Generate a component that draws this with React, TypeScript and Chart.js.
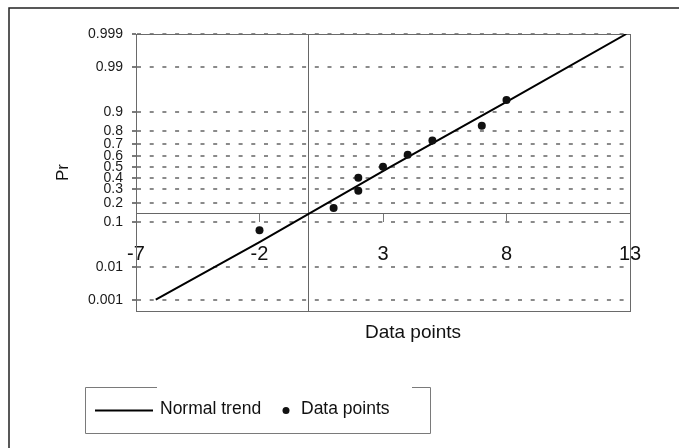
import React, { useEffect, useRef } from 'react';
import { Chart, registerables } from 'chart.js';

Chart.register(...registerables);

// ---- data ----
const trendLabel = 'Normal trend';
const pointsLabel = 'Data points';
const trendX = [-6.2, -2, 3.3, 8, 12.85];
const trendP = [0.001, 0.04, 0.5, 0.935, 0.999];
const pointX = [-2, 1, 2, 2, 3, 4, 5, 7, 8];
const pointP = [0.07, 0.17, 0.29, 0.4, 0.5, 0.61, 0.73, 0.83, 0.94];
const yTickP = [0.001, 0.01, 0.1, 0.2, 0.3, 0.4, 0.5, 0.6, 0.7, 0.8, 0.9, 0.99, 0.999];
const xTicks = [-7, -2, 3, 8, 13];
const xMin = -7;
const xMax = 13;
const yAxisMinP = 0.0004;
const yAxisMaxP = 0.999;
const xAxisCrossP = 0.138;
const xTitle = 'Data points';
const yTitle = 'Pr';

// inverse standard normal CDF (probability scale transform)
function probit(p: number): number {
  const a = [-39.69683028665376, 220.9460984245205, -275.9285104469687, 138.357751867269, -30.66479806614716, 2.506628277459239];
  const b = [-54.47609879822406, 161.5858368580409, -155.6989798598866, 66.80131188771972, -13.28068155288572];
  const c = [-0.007784894002430293, -0.3223964580411365, -2.400758277161838, -2.549671010229583, 4.374664141464968, 2.938163982698783];
  const d = [0.007784695709041462, 0.3224671290700398, 2.445134137142996, 3.754408661907416];
  const pl = 0.02425;
  const ph = 1 - pl;
  let q: number, r: number;
  if (p < pl) {
    q = Math.sqrt(-2 * Math.log(p));
    return (((((c[0] * q + c[1]) * q + c[2]) * q + c[3]) * q + c[4]) * q + c[5]) /
      ((((d[0] * q + d[1]) * q + d[2]) * q + d[3]) * q + 1);
  }
  if (p <= ph) {
    q = p - 0.5;
    r = q * q;
    return (((((a[0] * r + a[1]) * r + a[2]) * r + a[3]) * r + a[4]) * r + a[5]) * q /
      (((((b[0] * r + b[1]) * r + b[2]) * r + b[3]) * r + b[4]) * r + 1);
  }
  q = Math.sqrt(-2 * Math.log(1 - p));
  return -(((((c[0] * q + c[1]) * q + c[2]) * q + c[3]) * q + c[4]) * q + c[5]) /
    ((((d[0] * q + d[1]) * q + d[2]) * q + d[3]) * q + 1);
}

const FONT = '"Liberation Sans", Arial, Helvetica, sans-serif';
const NARROW = '"Liberation Sans Narrow", "Arial Narrow", ' + FONT;

function pickLegendFont(ctx: CanvasRenderingContext2D, text: string): string {
  const narrow = '20.5px ' + NARROW;
  ctx.font = narrow;
  const w = ctx.measureText(text).width;
  if (w > 90 && w < 108) return narrow;
  return '17.5px ' + FONT;
}

const decor = {
  id: 'decor',
  beforeDraw(chart: any) {
    const { ctx } = chart;
    ctx.save();
    ctx.fillStyle = '#ffffff';
    ctx.fillRect(0, 0, chart.width, chart.height);
    ctx.strokeStyle = '#222222';
    ctx.lineWidth = 1.5;
    ctx.beginPath();
    ctx.moveTo(9, chart.height);
    ctx.lineTo(9, 8);
    ctx.lineTo(chart.width, 8);
    ctx.stroke();
    ctx.restore();
  },
  beforeDatasetsDraw(chart: any) {
    const { ctx, chartArea: a } = chart;
    ctx.save();
    ctx.strokeStyle = '#6a6a6a';
    ctx.lineWidth = 1;
    ctx.strokeRect(Math.round(a.left) + 0.5, Math.round(a.top) + 0.5, Math.round(a.width), Math.round(a.height));
    ctx.restore();
  },
  afterDraw(chart: any) {
    const { ctx } = chart;
    const ds = chart.data.datasets;
    ctx.save();
    // x axis title
    ctx.font = '19px ' + FONT;
    ctx.fillStyle = '#111';
    ctx.textBaseline = 'middle';
    ctx.textAlign = 'center';
    ctx.fillText(xTitle, 413, 333);
    // legend box (top border interrupted as in the reference)
    ctx.strokeStyle = '#7a7a7a';
    ctx.lineWidth = 1;
    ctx.beginPath();
    ctx.moveTo(157, 387.5);
    ctx.lineTo(85.5, 387.5);
    ctx.lineTo(85.5, 433.5);
    ctx.lineTo(430.5, 433.5);
    ctx.lineTo(430.5, 387.5);
    ctx.lineTo(412, 387.5);
    ctx.stroke();
    const cy = 410.5;
    ctx.strokeStyle = '#000';
    ctx.lineWidth = 2;
    ctx.beginPath();
    ctx.moveTo(95, cy);
    ctx.lineTo(153, cy);
    ctx.stroke();
    ctx.font = pickLegendFont(ctx, ds[1].label);
    ctx.fillStyle = '#111';
    ctx.textBaseline = 'middle';
    ctx.textAlign = 'left';
    ctx.fillText(ds[1].label, 160, cy - 1);
    ctx.beginPath();
    ctx.arc(286, cy, 3.5, 0, Math.PI * 2);
    ctx.fill();
    ctx.fillText(ds[0].label, 301, cy - 1);
    ctx.restore();
  },
};

export default function App() {
  const ref = useRef<HTMLCanvasElement | null>(null);

  useEffect(() => {
    if (!ref.current) return;
    Chart.defaults.font.family = FONT;
    const yMin = probit(yAxisMinP);
    const yMax = probit(yAxisMaxP);
    const chart = new Chart(ref.current, {
      type: 'scatter',
      data: {
        datasets: [
          {
            label: pointsLabel,
            data: pointX.map((x, i) => ({ x, y: probit(pointP[i]) })),
            showLine: false,
            pointRadius: 4,
            pointHoverRadius: 4,
            pointBackgroundColor: '#111',
            pointBorderColor: '#111',
            pointBorderWidth: 0,
            order: 0,
          },
          {
            label: trendLabel,
            data: trendX.map((x, i) => ({ x, y: probit(trendP[i]) })),
            showLine: true,
            borderColor: '#000',
            borderWidth: 2,
            pointRadius: 0,
            fill: false,
            order: 1,
          },
        ],
      },
      options: {
        responsive: false,
        animation: false,
        events: [],
        layout: { padding: { left: 0, top: 34, right: 49, bottom: 104 } },
        plugins: { legend: { display: false }, tooltip: { enabled: false }, title: { display: false } },
        scales: {
          x: {
            type: 'linear',
            axis: 'x',
            min: xMin,
            max: xMax,
            position: { y: probit(xAxisCrossP) } as any,
            afterBuildTicks: (s: any) => { s.ticks = xTicks.map((v) => ({ value: v })); },
            ticks: {
              autoSkip: false,
              maxRotation: 0,
              padding: 21,
              color: '#111',
              font: { size: 20 },
              callback: (v: any) => String(v),
            },
            grid: { display: true, drawOnChartArea: false, drawTicks: true, tickLength: 8, color: '#777', lineWidth: 1 },
            border: { display: true, color: '#666', width: 1 },
          },
          x2: {
            type: 'linear',
            axis: 'x',
            position: 'bottom',
            min: xMin,
            max: xMax,
            ticks: { display: false },
            grid: { display: false, drawTicks: false },
            border: { display: false },
            title: { display: false, text: xTitle },
            afterFit: (s: any) => { s.height = 33; },
          },
          y: {
            type: 'linear',
            position: 'left',
            min: yMin,
            max: yMax,
            afterBuildTicks: (s: any) => { s.ticks = yTickP.map((p) => ({ value: probit(p) })); },
            ticks: {
              autoSkip: false,
              padding: 9,
              color: '#1a1a1a',
              font: { size: 14 },
              callback: (_v: any, i: number) => String(yTickP[i]),
            },
            grid: { display: true, drawOnChartArea: true, drawTicks: true, tickLength: 4, color: '#8a8a8a', lineWidth: 2, tickColor: '#7a7a7a' },
            border: { display: true, color: '#666', width: 1, dash: [4, 8.7] },
            title: { display: true, text: yTitle, color: '#111', font: { size: 17 }, padding: { top: 53, bottom: 0 } },
            afterFit: (s: any) => { s.width = 136; },
          },
          y2: {
            type: 'linear',
            axis: 'y',
            position: { x: 0 } as any,
            min: yMin,
            max: yMax,
            ticks: { display: false },
            grid: { display: false, drawTicks: false },
            border: { display: true, color: '#666', width: 1 },
          },
        },
      } as any,
      plugins: [decor],
    });
    return () => chart.destroy();
  }, []);

  return (
    <div style={{ position: 'fixed', left: 0, top: 0, width: 679, height: 448, overflow: 'hidden', background: '#fff' }}>
      <canvas ref={ref} width={679} height={448} />
    </div>
  );
}
